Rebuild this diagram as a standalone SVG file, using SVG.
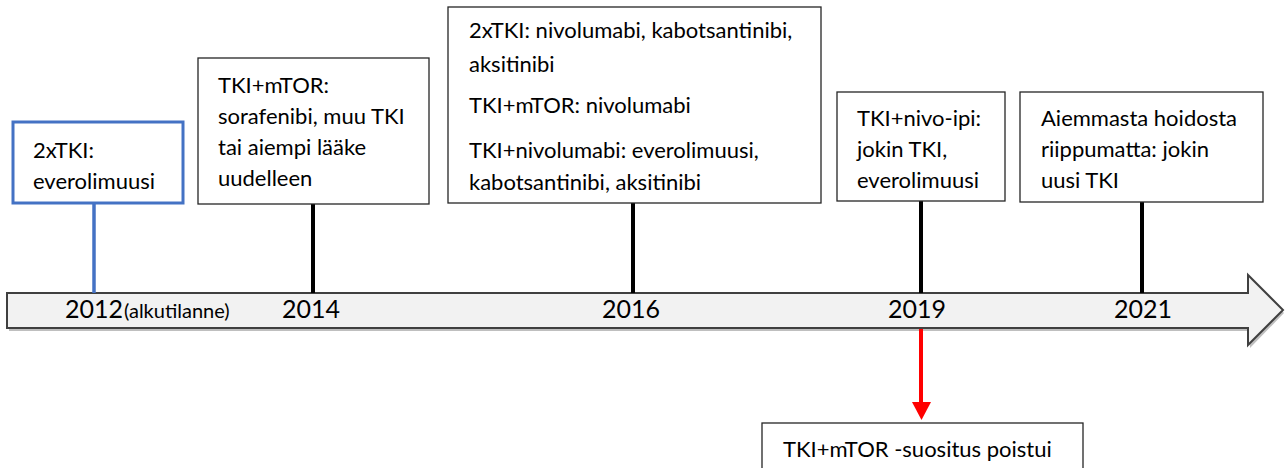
<svg xmlns="http://www.w3.org/2000/svg" width="1285" height="468" viewBox="0 0 1285 468">
<style>
.box{fill:#fff;stroke:#262626;stroke-width:1.3}
.t{font-family:Lato,"Open Sans",sans-serif;font-size:22px;fill:#000}
.yr{font-family:Lato,"Open Sans",sans-serif;font-size:25px;fill:#000;text-anchor:middle}
.stem{stroke:#000;stroke-width:4}
</style>
<rect width="1285" height="468" fill="#fff"/>
<g id="timeline">
<path d="M9 296 L1250 296 L1250 278 L1284 313 L1250 348 L1250 331 L9 331 Z" fill="#7f7f7f" opacity="0.5"/>
<path d="M7 293 L1248 293 L1248 275 L1283 310 L1248 345 L1248 328 L7 328 Z" fill="#f2f2f2" stroke="#404040" stroke-width="2" stroke-linejoin="miter"/>
<text class="yr" x="94" y="318">2012</text>
<text class="t" x="124" y="318" style="font-size:20px">(alkutilanne)</text>
<text class="yr" x="311" y="318">2014</text>
<text class="yr" x="631" y="318">2016</text>
<text class="yr" x="917" y="318">2019</text>
<text class="yr" x="1143" y="318">2021</text>
</g>
<g id="connectors">
<line x1="94" y1="203" x2="94" y2="293" stroke="#4472c4" stroke-width="3.5"/>
<line class="stem" x1="313" y1="204" x2="313" y2="293"/>
<line class="stem" x1="633" y1="203" x2="633" y2="293"/>
<line class="stem" x1="921" y1="201" x2="921" y2="293"/>
<line class="stem" x1="1142" y1="201" x2="1142" y2="293"/>
<line x1="921" y1="329" x2="921" y2="404" stroke="#ff0000" stroke-width="4"/>
<polygon points="912,402 931,402 921.5,420" fill="#ff0000"/>
</g>
<g id="n2012">
<rect x="13" y="122" width="170" height="81" fill="#fff" stroke="#4472c4" stroke-width="3"/>
<text class="t" x="33" y="158">2xTKI:</text>
<text class="t" x="33" y="189">everolimuusi</text>
</g>
<g id="n2014">
<rect class="box" x="198" y="58" width="231" height="146"/>
<text class="t" x="218" y="93">TKI+mTOR:</text>
<text class="t" x="218" y="124">sorafenibi, muu TKI</text>
<text class="t" x="218" y="155">tai aiempi lääke</text>
<text class="t" x="218" y="186">uudelleen</text>
</g>
<g id="n2016">
<rect class="box" x="448" y="7" width="373" height="196"/>
<text class="t" x="469" y="38">2xTKI: nivolumabi, kabotsantinibi,</text>
<text class="t" x="469" y="72">aksitinibi</text>
<text class="t" x="469" y="113">TKI+mTOR: nivolumabi</text>
<text class="t" x="469" y="158">TKI+nivolumabi: everolimuusi,</text>
<text class="t" x="469" y="190">kabotsantinibi, aksitinibi</text>
</g>
<g id="n2019">
<rect class="box" x="837" y="92" width="168" height="109"/>
<text class="t" x="857" y="126">TKI+nivo-ipi:</text>
<text class="t" x="857" y="157">jokin TKI,</text>
<text class="t" x="857" y="188">everolimuusi</text>
</g>
<g id="n2021">
<rect class="box" x="1020" y="92" width="243" height="110"/>
<text class="t" x="1041" y="126">Aiemmasta hoidosta</text>
<text class="t" x="1041" y="157">riippumatta: jokin</text>
<text class="t" x="1041" y="188">uusi TKI</text>
</g>
<g id="nRemoved">
<rect class="box" x="762" y="423" width="321" height="60"/>
<text class="t" x="783" y="457">TKI+mTOR -suositus poistui</text>
</g>
</svg>
